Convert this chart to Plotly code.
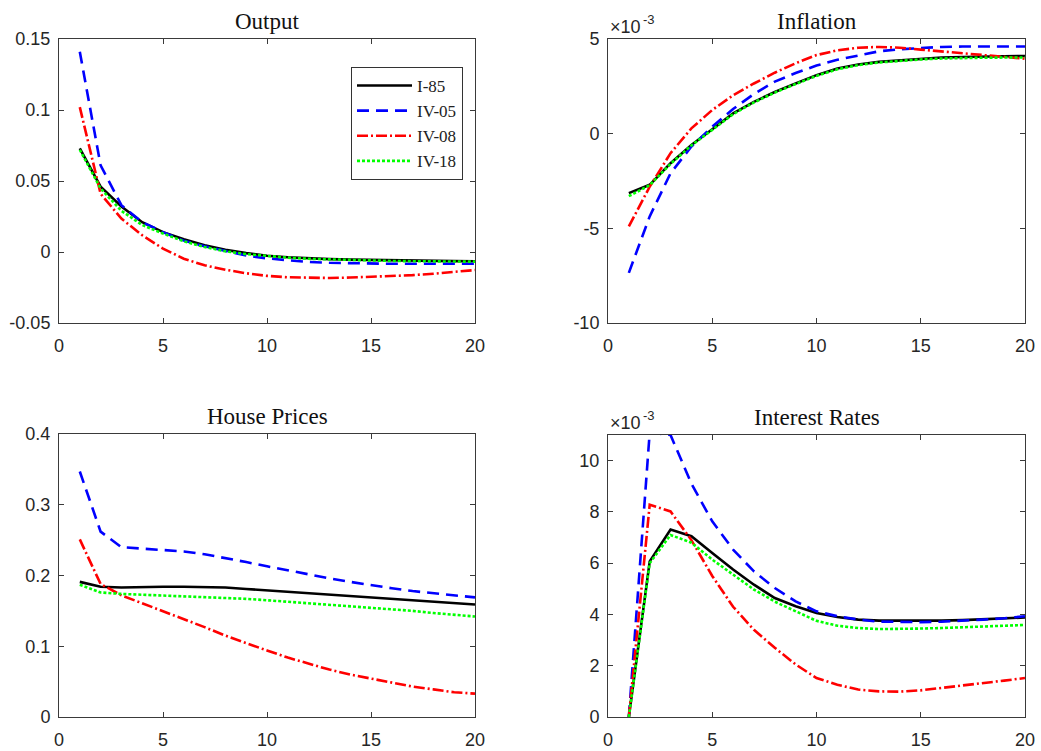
import plotly.graph_objects as go

# ---------------- data ----------------
periods = list(range(1, 21))
series_names = ["I-85", "IV-05", "IV-08", "IV-18"]
panel_titles = ["Output", "Inflation", "House Prices", "Interest Rates"]

x_ticks = [0, 5, 10, 15, 20]
x_ticklabels = ["0", "5", "10", "15", "20"]

# Output
out_i85 = [0.073, 0.046, 0.032, 0.021, 0.014, 0.009, 0.0047, 0.0015, -0.0008, -0.0027,
           -0.0037, -0.0045, -0.005, -0.0054, -0.0057, -0.006, -0.0062, -0.0063, -0.0064, -0.0065]
out_iv05 = [0.141, 0.061, 0.033, 0.021, 0.014, 0.008, 0.004, 0.0005, -0.0025, -0.0045,
            -0.006, -0.007, -0.0076, -0.008, -0.0082, -0.0083, -0.0083, -0.0083, -0.0083, -0.0083]
out_iv08 = [0.102, 0.041, 0.0235, 0.0118, 0.0024, -0.0047, -0.0094, -0.0125, -0.015, -0.0168,
            -0.0178, -0.0183, -0.0183, -0.018, -0.0176, -0.017, -0.0163, -0.0153, -0.014, -0.0127]
out_iv18 = [0.072, 0.0447, 0.029, 0.019, 0.013, 0.0075, 0.0035, 0.0005, -0.0015, -0.003,
            -0.004, -0.0048, -0.0053, -0.0057, -0.006, -0.0063, -0.0065, -0.0066, -0.0067, -0.0068]
out_ticks = [-0.05, 0, 0.05, 0.1, 0.15]
out_ticklabels = ["-0.05", "0", "0.05", "0.1", "0.15"]

# Inflation (in units of 1e-3)
inf_scale = 1e-3
inf_i85 = [-3.14, -2.7, -1.56, -0.6, 0.23, 1.07, 1.68, 2.2, 2.65, 3.09,
           3.44, 3.65, 3.79, 3.88, 3.96, 4.02, 4.05, 4.08, 4.09, 4.1]
inf_iv05 = [-7.35, -4.37, -2.09, -0.68, 0.37, 1.3, 2.1, 2.75, 3.2, 3.6,
            3.9, 4.14, 4.35, 4.46, 4.54, 4.58, 4.6, 4.6, 4.6, 4.6]
inf_iv08 = [-4.9, -2.8, -1.03, 0.28, 1.25, 2.03, 2.65, 3.22, 3.72, 4.15,
            4.4, 4.54, 4.58, 4.54, 4.44, 4.35, 4.23, 4.14, 4.05, 3.96]
inf_iv18 = [-3.3, -2.72, -1.6, -0.62, 0.2, 1.03, 1.65, 2.17, 2.62, 3.05,
            3.4, 3.62, 3.76, 3.85, 3.92, 3.97, 4.0, 4.01, 4.02, 4.02]
inf_ticks = [-10, -5, 0, 5]
inf_ticklabels = ["-10", "-5", "0", "5"]

# House prices
hp_i85 = [0.191, 0.184, 0.183, 0.184, 0.184, 0.184, 0.184, 0.183, 0.181, 0.179,
          0.177, 0.175, 0.173, 0.171, 0.169, 0.167, 0.165, 0.163, 0.161, 0.159]
hp_iv05 = [0.347, 0.262, 0.240, 0.238, 0.236, 0.234, 0.230, 0.225, 0.219, 0.213,
           0.207, 0.201, 0.196, 0.191, 0.186, 0.182, 0.178, 0.175, 0.172, 0.169]
hp_iv08 = [0.251, 0.188, 0.172, 0.161, 0.150, 0.139, 0.127, 0.115, 0.104, 0.094,
           0.084, 0.075, 0.067, 0.060, 0.054, 0.048, 0.043, 0.039, 0.035, 0.033]
hp_iv18 = [0.187, 0.176, 0.174, 0.173, 0.172, 0.171, 0.170, 0.168, 0.167, 0.165,
           0.163, 0.161, 0.159, 0.157, 0.155, 0.152, 0.150, 0.147, 0.145, 0.142]
hp_ticks = [0, 0.1, 0.2, 0.3, 0.4]
hp_ticklabels = ["0", "0.1", "0.2", "0.3", "0.4"]

# Interest rates (in units of 1e-3)
ir_scale = 1e-3
ir_i85 = [0, 6.07, 7.31, 7.05, 6.4, 5.75, 5.16, 4.64, 4.32, 4.06,
          3.9, 3.8, 3.76, 3.75, 3.75, 3.76, 3.78, 3.81, 3.84, 3.88]
ir_iv05 = [0, 11.1, 11.0, 9.1, 7.63, 6.53, 5.68, 5.03, 4.51, 4.12,
           3.93, 3.8, 3.72, 3.7, 3.7, 3.72, 3.75, 3.8, 3.85, 3.93]
ir_iv08 = [0, 8.28, 8.02, 6.9, 5.5, 4.3, 3.4, 2.7, 2.05, 1.52,
           1.26, 1.07, 1.0, 0.99, 1.04, 1.13, 1.22, 1.33, 1.42, 1.52]
ir_iv18 = [0, 6.0, 7.1, 6.8, 6.14, 5.55, 4.97, 4.5, 4.12, 3.75,
           3.56, 3.47, 3.43, 3.43, 3.45, 3.47, 3.5, 3.54, 3.56, 3.59]
ir_ticks = [0, 2, 4, 6, 8, 10]
ir_ticklabels = ["0", "2", "4", "6", "8", "10"]

# ---------------- styles ----------------
colors = ["#000000", "#0000FF", "#FF0000", "#00FF00"]
dashes = ["solid", "12px,7px", "11px,3px,2px,3px", "3px,2px"]
widths = [2.6, 2.6, 2.6, 2.6]

W, H = 1041, 751
def xdom(l, r):
    return [l / W, r / W]
def ydom(top, bottom):
    return [1 - bottom / H, 1 - top / H]

panels = [
    dict(data=[out_i85, out_iv05, out_iv08, out_iv18], scale=1.0, yr=[-0.05, 0.15],
         yt=out_ticks, ytl=out_ticklabels, xd=xdom(59, 475), yd=ydom(39, 323), exp=False),
    dict(data=[inf_i85, inf_iv05, inf_iv08, inf_iv18], scale=inf_scale, yr=[-0.01, 0.005],
         yt=[v * inf_scale for v in inf_ticks], ytl=inf_ticklabels, xd=xdom(608, 1025), yd=ydom(39, 323), exp=True),
    dict(data=[hp_i85, hp_iv05, hp_iv08, hp_iv18], scale=1.0, yr=[0, 0.4],
         yt=hp_ticks, ytl=hp_ticklabels, xd=xdom(59, 475), yd=ydom(434, 717), exp=False),
    dict(data=[ir_i85, ir_iv05, ir_iv08, ir_iv18], scale=ir_scale, yr=[0, 0.011],
         yt=[v * ir_scale for v in ir_ticks], ytl=ir_ticklabels, xd=xdom(608, 1025), yd=ydom(435, 717), exp=True),
]

fig = go.Figure()
axis_color = "#3a3a3a"
sans = "Liberation Sans, Arial, sans-serif"
serif = "Liberation Serif, Times New Roman, serif"
tick_font = dict(family=sans, size=18, color="#262626")
annotations = []
layout_axes = {}

for p_i, p in enumerate(panels):
    n = p_i + 1
    xa = "x" if n == 1 else f"x{n}"
    ya = "y" if n == 1 else f"y{n}"
    for s_i, name in enumerate(series_names):
        fig.add_trace(go.Scatter(
            x=periods, y=[v * p["scale"] for v in p["data"][s_i]],
            mode="lines", name=name, xaxis=xa, yaxis=ya,
            showlegend=(n == 1),
            line=dict(color=colors[s_i], width=widths[s_i], dash=dashes[s_i]),
        ))
    common = dict(showline=True, linecolor=axis_color, linewidth=1, mirror="ticks",
                  ticks="inside", ticklen=5, tickcolor=axis_color, tickwidth=1,
                  showgrid=False, zeroline=False, tickfont=tick_font, automargin=False)
    layout_axes["xaxis" if n == 1 else f"xaxis{n}"] = dict(
        domain=p["xd"], anchor=ya, range=[0, 20], tickmode="array",
        tickvals=x_ticks, ticktext=x_ticklabels, ticklabelstandoff=6, **common)
    layout_axes["yaxis" if n == 1 else f"yaxis{n}"] = dict(
        domain=p["yd"], anchor=xa, range=p["yr"], tickmode="array",
        tickvals=p["yt"], ticktext=p["ytl"], ticklabelstandoff=4, **common)
    annotations.append(dict(
        text=panel_titles[p_i], xref=f"{xa} domain", yref=f"{ya} domain",
        x=0.5, y=1, xanchor="center", yanchor="bottom", yshift=3, showarrow=False,
        font=dict(family=serif, size=23, color="#111111")))
    if p["exp"]:
        annotations.append(dict(
            text="\u00d710", xref=f"{xa} domain", yref=f"{ya} domain",
            x=0, y=1, xanchor="left", yanchor="bottom", xshift=0, yshift=0, showarrow=False,
            font=dict(family=sans, size=18, color="#262626")))
        annotations.append(dict(
            text="-3", xref=f"{xa} domain", yref=f"{ya} domain",
            x=0, y=1, xanchor="left", yanchor="bottom", xshift=33, yshift=10, showarrow=False,
            font=dict(family=sans, size=13, color="#262626")))

fig.update_layout(
    width=W, height=H,
    margin=dict(l=0, r=0, t=0, b=0),
    paper_bgcolor="white", plot_bgcolor="white",
    annotations=annotations,
    legend=dict(x=351 / W, y=1 - 67 / H, xanchor="left", yanchor="top",
                bgcolor="white", bordercolor="#333333", borderwidth=1,
                font=dict(family=serif, size=17, color="#222222"),
                itemwidth=55, tracegroupgap=0),
    **layout_axes,
)

fig.write_html("out.html",
               config={"displayModeBar": False},
               post_script="document.body.style.margin='0';document.body.style.overflow='hidden';")
